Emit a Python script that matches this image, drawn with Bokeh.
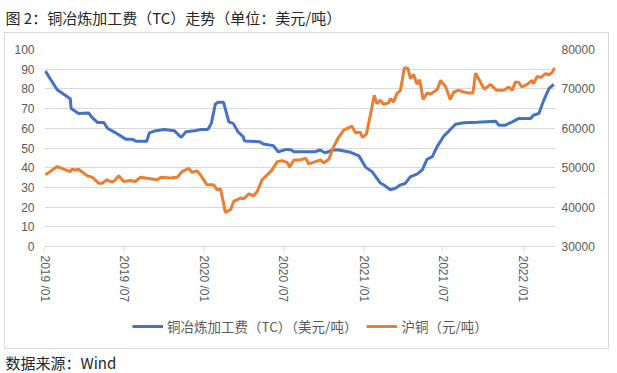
import math
import pandas as pd
from bokeh.plotting import figure
from bokeh.layouts import column
from bokeh.models import (Range1d, LinearAxis, FixedTicker, DatetimeTickFormatter,
                          Legend, LegendItem, InlineStyleSheet)
from bokeh.embed import file_html
from bokeh.resources import INLINE

title_text = "图 2：铜冶炼加工费（TC）走势（单位：美元/吨）"
source_text = "数据来源：Wind"
tc_label = "铜冶炼加工费（TC）（美元/吨）"
cu_label = "沪铜（元/吨）"

tc_dates = ["2019-01-03", "2019-01-30", "2019-03-01", "2019-03-03", "2019-03-20", "2019-04-12",
            "2019-04-20", "2019-05-02", "2019-05-17", "2019-05-25", "2019-06-09", "2019-07-06",
            "2019-07-21", "2019-07-29", "2019-08-23", "2019-08-29", "2019-09-13", "2019-10-02",
            "2019-10-25", "2019-11-10", "2019-11-21", "2019-12-10", "2019-12-26", "2020-01-10",
            "2020-01-18", "2020-01-27", "2020-02-02", "2020-02-15", "2020-02-27", "2020-03-08",
            "2020-03-19", "2020-03-31", "2020-04-03", "2020-05-08", "2020-05-16", "2020-06-08",
            "2020-06-19", "2020-07-08", "2020-07-20", "2020-07-24", "2020-09-11", "2020-09-23",
            "2020-10-04", "2020-10-12", "2020-10-20", "2020-11-05", "2020-12-02", "2020-12-21",
            "2021-01-05", "2021-01-20", "2021-02-08", "2021-02-19", "2021-03-03", "2021-03-15",
            "2021-03-26", "2021-04-06", "2021-04-18", "2021-05-03", "2021-05-15", "2021-05-26",
            "2021-06-07", "2021-06-18", "2021-07-03", "2021-07-15", "2021-07-30", "2021-08-18",
            "2021-09-18", "2021-10-30", "2021-11-06", "2021-11-21", "2021-12-07", "2021-12-22",
            "2022-01-18", "2022-01-25", "2022-02-06", "2022-02-17", "2022-03-01", "2022-03-12"]
tc_values = [89.0, 79.6, 75.0, 70.0, 67.5, 67.8,
             65.5, 63.0, 63.0, 60.0, 58.2, 54.5,
             54.5, 53.4, 53.4, 57.7, 58.8, 59.4,
             58.8, 55.4, 58.2, 58.8, 59.4, 59.4,
             62.5, 72.2, 73.2, 73.2, 63.3, 62.5,
             58.2, 55.7, 53.5, 53.2, 52.0, 51.2,
             48.1, 49.3, 49.0, 48.1, 48.1, 49.0,
             47.6, 48.1, 49.0, 49.0, 47.8, 46.0,
             40.3, 38.0, 32.2, 30.8, 28.8, 29.6,
             31.3, 32.0, 35.5, 36.7, 38.9, 44.3,
             45.6, 50.7, 56.0, 58.6, 62.1, 62.8,
             63.1, 63.6, 61.6, 61.6, 63.3, 65.0,
             65.0, 66.7, 67.5, 74.2, 80.1, 82.3]

cu_dates = ["2019-01-03", "2019-01-30", "2019-03-01", "2019-03-05", "2019-03-13", "2019-03-20",
            "2019-04-09", "2019-04-20", "2019-05-05", "2019-05-13", "2019-05-24", "2019-06-05",
            "2019-06-12", "2019-06-20", "2019-07-01", "2019-07-17", "2019-07-28", "2019-08-09",
            "2019-08-24", "2019-09-16", "2019-09-25", "2019-10-16", "2019-11-01", "2019-11-12",
            "2019-11-27", "2019-12-05", "2019-12-16", "2019-12-24", "2020-01-08", "2020-01-23",
            "2020-01-31", "2020-02-08", "2020-02-15", "2020-02-19", "2020-03-02", "2020-03-09",
            "2020-03-25", "2020-04-01", "2020-04-13", "2020-04-24", "2020-05-02", "2020-05-13",
            "2020-05-25", "2020-06-05", "2020-06-17", "2020-06-28", "2020-07-10", "2020-07-15",
            "2020-07-25", "2020-08-09", "2020-08-21", "2020-08-28", "2020-09-12", "2020-09-24",
            "2020-10-01", "2020-10-13", "2020-10-24", "2020-11-05", "2020-11-16", "2020-12-05",
            "2020-12-13", "2020-12-24", "2020-12-29", "2021-01-07", "2021-01-16", "2021-01-25",
            "2021-01-31", "2021-02-08", "2021-02-15", "2021-02-27", "2021-03-03", "2021-03-10",
            "2021-03-18", "2021-03-26", "2021-04-04", "2021-04-12", "2021-04-18", "2021-04-25",
            "2021-05-03", "2021-05-09", "2021-05-17", "2021-05-26", "2021-06-03", "2021-06-18",
            "2021-06-26", "2021-07-07", "2021-07-18", "2021-07-26", "2021-08-06", "2021-08-18",
            "2021-08-29", "2021-09-08", "2021-09-14", "2021-09-25", "2021-10-04", "2021-10-18",
            "2021-11-01", "2021-11-18", "2021-11-29", "2021-12-07", "2021-12-14", "2021-12-22",
            "2021-12-29", "2022-01-10", "2022-01-21", "2022-01-25", "2022-02-02", "2022-02-10",
            "2022-02-21", "2022-03-01", "2022-03-09", "2022-03-14"]
cu_values = [48180, 50280, 49010, 49620, 49400, 49620,
             47930, 47600, 46080, 46080, 46920, 46330,
             46920, 48000, 46500, 46750, 46500, 47600,
             47300, 46920, 47600, 47400, 47600, 49010,
             49870, 48800, 49200, 48180, 45660, 45700,
             44390, 44600, 41030, 38660, 39340, 41440,
             42300, 42100, 43380, 42880, 43960, 46920,
             48180, 49440, 51540, 51790, 51300, 50120,
             51970, 51970, 52400, 50960, 51540, 51970,
             51200, 52140, 55330, 57850, 59540, 60550,
             58860, 59000, 57700, 58530, 63330, 68380,
             66280, 67120, 66110, 66450, 67550, 66700,
             68810, 69640, 75370, 75200, 72600, 73680,
             71160, 72340, 67290, 68960, 68700, 69820,
             72170, 70650, 67290, 69220, 69640, 69220,
             68960, 68960, 74010, 71740, 69900, 71160,
             69640, 69640, 70480, 69640, 71740, 71600,
             70480, 71160, 72170, 71320, 73180, 72850,
             73860, 73600, 74260, 75370]

x_tick_dates = ["2019-01-01", "2019-07-01", "2020-01-01", "2020-07-01",
                "2021-01-01", "2021-07-01", "2022-01-01"]
x_start = "2019-01-01"
x_end = "2022-03-16"
left_ticks = [0, 10, 20, 30, 40, 50, 60, 70, 80, 90, 100]
right_ticks = [30000, 40000, 50000, 60000, 70000, 80000]

assert len(tc_dates) == len(tc_values)
assert len(cu_dates) == len(cu_values)

GRID = "#d9d9d9"
LABEL = "#595959"
TEXT = "#262626"
BLUE = "#4472C4"
ORANGE = "#ED7D31"
CJK = "Noto Sans CJK SC"
W = 617

tc_x = pd.to_datetime(tc_dates)
cu_x = pd.to_datetime(cu_dates)
tick_ms = [pd.Timestamp(d).value // 10**6 for d in x_tick_dates]


def strip(height, top=0, text=None):
    """A plain figure without axes; an optional left-aligned text sits in its title panel."""
    f = figure(width=W, height=height, output_backend="svg", toolbar_location=None,
               x_axis_location=None, y_axis_location=None, min_border=0,
               min_border_top=top, x_range=Range1d(0, 1), y_range=Range1d(0, 1))
    f.outline_line_color = None
    f.background_fill_color = "white"
    f.border_fill_color = "white"
    for g in f.grid:
        g.visible = False
    if text is not None:
        f.title.text = text
        f.title.align = "left"
        f.title.offset = -39
        f.title.standoff = 0
        f.title.vertical_align = "bottom"
        f.title.text_font = CJK
        f.title.text_font_size = "15px"
        f.title.text_font_style = "normal"
        f.title.text_color = TEXT
    return f


# ---- header (title) ----
head = strip(32, top=27, text=title_text)

# ---- main chart ----
p = figure(width=W, height=273, x_axis_type="datetime", output_backend="svg",
           toolbar_location=None,
           x_range=Range1d(pd.Timestamp(x_start), pd.Timestamp(x_end)),
           y_range=Range1d(left_ticks[0], left_ticks[-1]),
           min_border_left=44, min_border_right=62, min_border_top=17, min_border_bottom=58)
p.extra_y_ranges = {"cu": Range1d(right_ticks[0], right_ticks[-1])}
p.outline_line_color = None
p.background_fill_color = "white"
p.border_fill_color = "white"

xa = p.below[0]
xa.ticker = FixedTicker(ticks=tick_ms)
xa.formatter = DatetimeTickFormatter(days="%Y /%m", months="%Y /%m", years="%Y /%m")
xa.major_label_orientation = -math.pi / 2
xa.axis_line_color = GRID
xa.major_tick_line_color = GRID
xa.minor_tick_line_color = None
xa.major_tick_in = 0
xa.major_tick_out = 4
xa.major_label_standoff = 5
xa.major_label_text_font = "Liberation Sans"
xa.major_label_text_font_size = "12px"
xa.major_label_text_color = LABEL

ya = p.left[0]
ya.ticker = FixedTicker(ticks=left_ticks)
ya.axis_line_color = None
ya.major_tick_line_color = None
ya.minor_tick_line_color = None
ya.major_tick_in = 0
ya.major_tick_out = 0
ya.major_label_standoff = 10
ya.major_label_text_font = "Liberation Sans"
ya.major_label_text_font_size = "12px"
ya.major_label_text_color = LABEL

p.xgrid.grid_line_color = None
p.ygrid.grid_line_color = GRID
p.ygrid[0].ticker = FixedTicker(ticks=left_ticks)

ra = LinearAxis(y_range_name="cu", ticker=FixedTicker(ticks=right_ticks))
ra.axis_line_color = None
ra.major_tick_line_color = None
ra.minor_tick_line_color = None
ra.major_tick_in = 0
ra.major_tick_out = 0
ra.major_label_standoff = 6
ra.major_label_text_font = "Liberation Sans"
ra.major_label_text_font_size = "12px"
ra.major_label_text_color = LABEL
p.add_layout(ra, "right")

p.line(tc_x, tc_values, line_color=BLUE, line_width=3)
p.line(cu_x, cu_values, line_color=ORANGE, line_width=3, y_range_name="cu")

# ---- legend strip (series re-plotted outside this strip's view, only feeding the legend) ----
leg = strip(44)
k_tc = leg.line(tc_x, tc_values, line_color=BLUE, line_width=3)
k_cu = leg.line(cu_x, cu_values, line_color=ORANGE, line_width=3)
legend = Legend(items=[LegendItem(label=tc_label, renderers=[k_tc]),
                       LegendItem(label=cu_label, renderers=[k_cu])],
                location=(88, 13), orientation="horizontal",
                glyph_width=31, glyph_height=12, label_height=12, label_standoff=4,
                spacing=9, padding=0, margin=0,
                border_line_color=None, background_fill_alpha=0,
                label_text_font=CJK, label_text_font_size="13.5px",
                label_text_color=LABEL)
leg.add_layout(legend)

# ---- source strip ----
foot = strip(24, top=20, text=source_text)

page = column(head, p, leg, foot, spacing=0)
# light grey chart-area border (CSS decoration around the chart area)
page.stylesheets = [InlineStyleSheet(css=(
    ":host::after { content: ''; position: absolute; left: 4px; top: 32px; "
    "width: 605px; height: 317px; border: 1px solid #d9d9d9; box-sizing: border-box; "
    "pointer-events: none; }"))]

open("out.html", "w").write(file_html(page, INLINE))
